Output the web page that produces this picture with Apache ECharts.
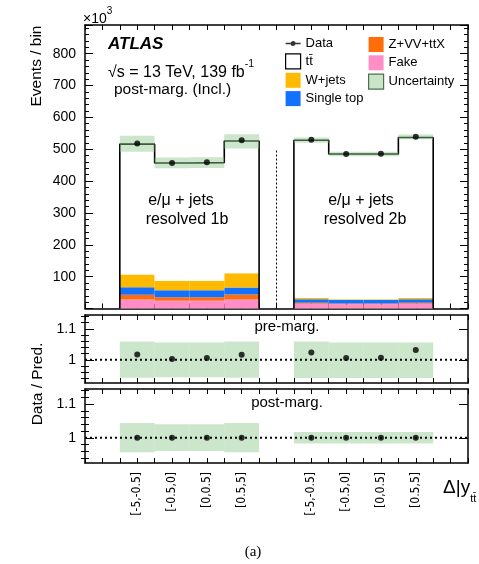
<!DOCTYPE html>
<html><head><meta charset="utf-8">
<script src="https://cdn.jsdelivr.net/npm/echarts@6/dist/echarts.min.js"></script>
<style>html,body{margin:0;padding:0;background:#fff}#c{width:479px;height:564px}</style>
</head><body><div id="c"></div>
<script>
// ---------------- DATA (events in units of 10^3) ----------------
const binLabels = ['[-5,-0.5]', '[-0.5,0]', '[0,0.5]', '[0.5,5]'];
const regionNames = ['resolved 1b', 'resolved 2b'];
// stacked backgrounds, bottom to top, [region][bin]
const fake      = [[28, 24, 24, 28], [15, 13, 13, 15]];
const zvvttx    = [[15, 11, 11, 16], [3, 3, 3, 3]];
const singleTop = [[24, 22, 22, 22], [11, 11, 11, 11]];
const wjets     = [[40, 30, 30, 45], [5, 2, 2, 5]];
const ttbar     = [[409, 370, 371, 415], [494, 456, 456, 503]];
const dataMain  = [[518, 457, 459, 528], [530, 485, 486, 539]];
const uncLow    = [[492, 440, 441, 502], [520, 478, 478, 531]];
const uncHigh   = [[542, 474, 475, 547], [537, 492, 492, 546]];
// ratio panels
const preRatio  = [[1.017, 1.003, 1.006, 1.016], [1.024, 1.006, 1.007, 1.032]];
const preUp     = [[0.059, 0.056, 0.056, 0.059], [0.059, 0.056, 0.056, 0.056]];
const preDn     = [[0.058, 0.056, 0.056, 0.058], [0.059, 0.059, 0.059, 0.059]];
const postRatio = [[1.000, 1.000, 1.000, 1.000], [1.000, 1.000, 1.000, 1.000]];
const postUp    = [[0.044, 0.040, 0.040, 0.044], [0.017, 0.017, 0.017, 0.017]];
const postDn    = [[0.043, 0.039, 0.039, 0.043], [0.017, 0.017, 0.017, 0.017]];
const mainTicks = [100, 200, 300, 400, 500, 600, 700, 800];
const ratioMajor = [1, 1.1];
const ratioMinor = [0.94, 0.96, 0.98, 1.02, 1.04, 1.06, 1.08, 1.12, 1.14];

// ---------------- CHART ----------------
const FONT = '"Liberation Sans", Arial, Helvetica, sans-serif';
const NARROW = '"Liberation Sans Narrow", "DejaVu Sans Condensed", "Liberation Sans", sans-serif';
const BAND = 'rgba(140,200,140,0.45)';
const slotOf = (r, i) => 1 + r * 5 + i;
function labelForSlot(v) {
  const s = Math.floor(v);
  if (Math.abs(v - s - 0.5) > 1e-6) return '';
  if (s >= 1 && s <= 4) return binLabels[s - 1];
  if (s >= 6 && s <= 9) return binLabels[s - 6];
  return '';
}
function rectSeries(name, color, items, xi, yi, z) {
  return {
    type: 'custom', name, xAxisIndex: xi, yAxisIndex: yi, z, silent: true,
    itemStyle: { color },
    data: items,
    renderItem: (params, api) => {
      const x0 = api.value(0), lo = api.value(1), hi = api.value(2);
      const p0 = api.coord([x0, hi]), p1 = api.coord([x0 + 1, lo]);
      return { type: 'rect', shape: { x: p0[0], y: p0[1], width: p1[0] - p0[0], height: p1[1] - p0[1] },
               style: { fill: color } };
    }
  };
}
const series = [];
const comps = [
  { name: 'Fake', vals: fake, color: '#FF8EC6' },
  { name: 'Z+VV+ttX', vals: zvvttx, color: '#FF6D0A' },
  { name: 'Single top', vals: singleTop, color: '#1470FF' },
  { name: 'W+jets', vals: wjets, color: '#FFBA00' },
  { name: 'tt\u0304', vals: ttbar, color: '#FFFFFF' }
];
const tot = [[0, 0, 0, 0], [0, 0, 0, 0]];
comps.forEach((c, k) => {
  const items = [];
  for (let r = 0; r < 2; r++) for (let i = 0; i < 4; i++) {
    items.push([slotOf(r, i), tot[r][i], tot[r][i] + c.vals[r][i]]);
    tot[r][i] += c.vals[r][i];
  }
  series.push(rectSeries(c.name, c.color, items, 0, 0, 2 + k));
});
// total prediction outline
for (let r = 0; r < 2; r++) {
  const pts = [[slotOf(r, 0), 0]];
  for (let i = 0; i < 4; i++) { pts.push([slotOf(r, i), tot[r][i]]); pts.push([slotOf(r, i) + 1, tot[r][i]]); }
  pts.push([slotOf(r, 3) + 1, 0]);
  series.push({ type: 'line', name: 'outline' + r, xAxisIndex: 0, yAxisIndex: 0, data: pts, showSymbol: false,
    silent: true, z: 8, lineStyle: { color: '#000', width: 1.6 } });
}
// uncertainty band
const uncItems = [];
for (let r = 0; r < 2; r++) for (let i = 0; i < 4; i++) uncItems.push([slotOf(r, i), uncLow[r][i], uncHigh[r][i]]);
series.push(rectSeries('Uncertainty', BAND, uncItems, 0, 0, 9));
// data points
const dPts = [];
for (let r = 0; r < 2; r++) for (let i = 0; i < 4; i++) dPts.push([slotOf(r, i) + 0.5, dataMain[r][i]]);
series.push({ type: 'scatter', name: 'Data', xAxisIndex: 0, yAxisIndex: 0, data: dPts, symbol: 'circle', symbolSize: 6,
  itemStyle: { color: '#000' }, z: 12, silent: true });
// separator
series.push({ type: 'line', xAxisIndex: 0, yAxisIndex: 0, data: [[5.5, 0], [5.5, 500]], showSymbol: false, silent: true,
  lineStyle: { color: '#000', width: 1, type: [2, 2] }, z: 7 });

// ratio panels
function ratioPanel(g, ratio, up, dn, yi) {
  const band = [], pts = [];
  for (let r = 0; r < 2; r++) for (let i = 0; i < 4; i++) {
    band.push([slotOf(r, i), 1 - dn[r][i], 1 + up[r][i]]);
    pts.push([slotOf(r, i) + 0.5, ratio[r][i]]);
  }
  series.push(rectSeries('band' + g, BAND, band, 2 * g, yi, 2));
  series.push({ type: 'line', xAxisIndex: 2 * g, yAxisIndex: yi, data: [[0, 1], [11, 1]], showSymbol: false, silent: true,
    lineStyle: { color: '#000', width: 2, type: [2, 3] }, z: 5 });
  series.push({ type: 'scatter', xAxisIndex: 2 * g, yAxisIndex: yi, data: pts, symbolSize: 6, silent: true,
    itemStyle: { color: '#000' }, z: 10 });
}
ratioPanel(1, preRatio, preUp, preDn, 2);
ratioPanel(2, postRatio, postUp, postDn, 6);

const AX = { color: '#000', width: 1.5 };
const grids = [
  { left: 85, top: 25, width: 383, height: 283.5 },
  { left: 85, top: 315, width: 383, height: 68 },
  { left: 85, top: 389, width: 383, height: 74 }
];
const xAxes = [];
for (let g = 0; g < 3; g++) {
  for (const pos of ['bottom', 'top']) {
    const ax = { type: 'value', gridIndex: g, position: pos, min: 0, max: 11, interval: 0.5,
      axisLine: { show: true, onZero: false, lineStyle: AX },
      axisTick: { show: true, inside: true, length: 5, lineStyle: { color: '#000', width: 1 } },
      splitLine: { show: false }, axisLabel: { show: false } };
    if (g === 2 && pos === 'bottom') {
      ax.axisLabel = { show: true, rotate: 90, margin: 9, fontSize: 12, fontFamily: NARROW, color: '#000',
        formatter: labelForSlot, showMinLabel: true, showMaxLabel: true, hideOverlap: false };
    }
    xAxes.push(ax);
  }
}
const yAxes = [];
for (const pos of ['left', 'right']) {
  yAxes.push({ type: 'value', gridIndex: 0, position: pos, min: 0, max: 890, interval: 100,
    axisLine: { show: true, onZero: false, lineStyle: AX },
    axisTick: { show: true, inside: true, length: 8, lineStyle: { color: '#000', width: 1 } },
    minorTick: { show: true, splitNumber: 5, length: 4, lineStyle: { color: '#000', width: 1 } },
    splitLine: { show: false },
    axisLabel: pos === 'left' ? { show: true, fontSize: 14, fontFamily: FONT, color: '#000', margin: 9,
      showMaxLabel: false, formatter: v => (mainTicks.indexOf(v) >= 0 ? String(v) : '') } : { show: false } });
}
for (let g = 1; g < 3; g++) {
  for (const pos of ['left', 'right']) {
    yAxes.push({ type: 'value', gridIndex: g, position: pos, min: 0.925, max: 1.145,
      axisLine: { show: true, onZero: false, lineStyle: AX },
      axisTick: { show: true, inside: true, length: 9, customValues: ratioMajor, lineStyle: { color: '#000', width: 1 } },
      splitLine: { show: false },
      axisLabel: pos === 'left' ? { show: true, customValues: ratioMajor, fontSize: 14, fontFamily: FONT, color: '#000', margin: 9,
        formatter: v => (Math.abs(v - 1) < 1e-6 ? '1' : '1.1') } : { show: false } });
    yAxes.push({ type: 'value', gridIndex: g, position: pos, min: 0.925, max: 1.145,
      axisLine: { show: false },
      axisTick: { show: true, inside: true, length: 4, customValues: ratioMinor, lineStyle: { color: '#000', width: 1 } },
      splitLine: { show: false }, axisLabel: { show: false } });
  }
}

const T = (x, y, text, size, extra) => Object.assign({ type: 'text', x, y, z: 100, silent: true,
  style: Object.assign({ text, fill: '#000', font: size + 'px ' + FONT, align: 'left', verticalAlign: 'middle' }, extra || {}) });
const graphic = [
  { type: 'text', x: 83, y: 16, z: 100, silent: true, style: { text: '{n|×10}{s|3}', fill: '#000', verticalAlign: 'middle',
    rich: { n: { fontSize: 14, fontFamily: FONT, lineHeight: 20, verticalAlign: 'bottom' },
            s: { fontSize: 10, fontFamily: FONT, lineHeight: 20, verticalAlign: 'top' } } } },
  T(108, 44, 'ATLAS', 17, { font: 'italic bold 17px ' + FONT }),
  { type: 'text', x: 108, y: 70, z: 100, silent: true, style: { text: '{n|√s = 13 TeV, 139 fb}{s|-1}', fill: '#000', verticalAlign: 'middle',
    rich: { n: { fontSize: 16, fontFamily: FONT, lineHeight: 22, verticalAlign: 'bottom' },
            s: { fontSize: 10.5, fontFamily: FONT, lineHeight: 22, verticalAlign: 'top' } } } },
  T(114, 90, 'post-marg. (Incl.)', 15.5),
  T(181, 201, 'e/μ + jets', 16, { align: 'center' }),
  T(187, 220, regionNames[0], 16, { align: 'center' }),
  T(361, 201, 'e/μ + jets', 16, { align: 'center' }),
  T(365, 220, regionNames[1], 16, { align: 'center' }),
  T(287, 327, 'pre-marg.', 15, { align: 'center' }),
  T(287, 403, 'post-marg.', 15, { align: 'center' }),
  Object.assign(T(37, 66, 'Events / bin', 15.5, { align: 'center' }), { rotation: Math.PI / 2 }),
  Object.assign(T(38, 384, 'Data / Pred.', 15.5, { align: 'center' }), { rotation: Math.PI / 2 }),
  { type: 'text', x: 443, y: 491, z: 100, silent: true, style: { text: '{n|Δ|y}{b|tt\u0304}', fill: '#000', verticalAlign: 'middle',
    rich: { n: { fontSize: 19, fontFamily: FONT, lineHeight: 26, verticalAlign: 'top' },
            b: { fontSize: 11, fontFamily: FONT, lineHeight: 26, verticalAlign: 'bottom' } } } },
  T(253, 552, '(a)', 15, { align: 'center', font: '15px "Liberation Serif", "Times New Roman", serif' })
];

const legText = { fontSize: 13, fontFamily: FONT, color: '#000' };
const option = {
  animation: false,
  backgroundColor: '#fff',
  grid: grids,
  xAxis: xAxes,
  yAxis: yAxes,
  legend: [
    { left: 280, top: 32, orient: 'vertical', itemWidth: 15, itemHeight: 15, itemGap: 3.3, selectedMode: false,
      textStyle: legText, symbolKeepAspect: true,
      data: [
        { name: 'Data', icon: 'path://M0,4.3 L15,4.3 L15,5.7 L0,5.7 Z M7.5,2.5 A2.5,2.5 0 1 1 7.49,2.5 Z', itemStyle: { color: '#000' } },
        { name: 'tt\u0304', icon: 'rect', itemStyle: { color: '#fff', borderColor: '#000', borderWidth: 1.2 } },
        { name: 'W+jets', icon: 'rect' },
        { name: 'Single top', icon: 'rect' }
      ] },
    { left: 363, top: 32, orient: 'vertical', itemWidth: 15, itemHeight: 15, itemGap: 3.3, selectedMode: false,
      textStyle: legText,
      data: [
        { name: 'Z+VV+ttX', icon: 'rect' },
        { name: 'Fake', icon: 'rect' },
        { name: 'Uncertainty', icon: 'rect', itemStyle: { color: '#c9e4c9', borderColor: '#4f6f4f', borderWidth: 1.2 } }
      ] }
  ],
  graphic,
  series
};
const chart = echarts.init(document.getElementById('c'), null, { renderer: 'canvas', width: 479, height: 564 });
chart.setOption(option);
</script></body></html>
